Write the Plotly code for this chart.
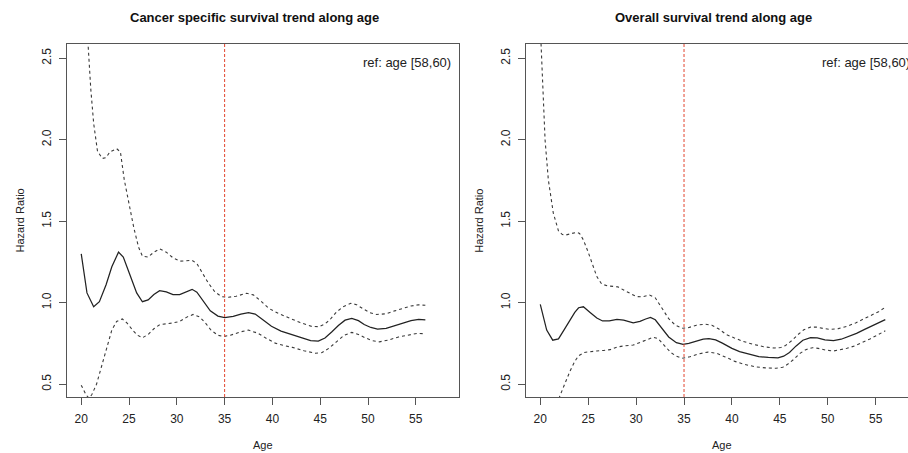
import plotly.graph_objects as go

# ---------------- data ----------------
cs_age = [20.0, 20.6, 21.3, 21.9, 22.6, 23.2, 23.9, 24.4, 25.1, 25.8, 26.4, 27.0, 27.6, 28.2, 28.9, 29.6, 30.3, 31.0, 31.6, 32.1,
          32.8, 33.5, 34.3, 35.0, 35.9, 36.7, 37.5, 38.2, 39.0, 39.9, 40.9, 42.0, 43.0, 44.0, 44.8, 45.5, 46.2, 46.9, 47.6, 48.3,
          49.0, 49.6, 50.3, 51.0, 51.9, 52.8, 53.7, 54.5, 55.3, 56.0]
cs_hr = [1.30, 1.06, 0.975, 1.006, 1.11, 1.22, 1.31, 1.28, 1.17, 1.06, 1.006, 1.017, 1.05, 1.074, 1.066, 1.05, 1.05, 1.068, 1.082, 1.065,
         1.01, 0.95, 0.918, 0.908, 0.916, 0.93, 0.939, 0.93, 0.895, 0.855, 0.826, 0.806, 0.785, 0.767, 0.764, 0.783, 0.82, 0.86, 0.893, 0.904,
         0.89, 0.866, 0.848, 0.838, 0.842, 0.858, 0.876, 0.89, 0.898, 0.894]

cs_up_age = [20.0, 20.4, 20.7, 21.0, 21.3, 21.7, 22.2, 22.6, 23.0, 23.7, 24.1, 24.5, 25.0, 25.5, 26.0, 26.4, 27.0, 27.6, 28.2, 28.9,
             29.6, 30.3, 31.0, 31.6, 32.1, 32.7, 33.3, 34.0, 34.7, 35.4, 36.2, 37.3, 38.0, 38.8, 39.6, 40.6, 41.7, 42.9, 44.1, 44.9,
             45.5, 46.0, 46.7, 47.4, 48.2, 48.8, 49.5, 50.2, 50.9, 51.9, 52.8, 53.7, 54.5, 55.3, 56.0]
cs_up = [3.6, 3.0, 2.6, 2.31, 2.10, 1.93, 1.885, 1.89, 1.925, 1.945, 1.925, 1.755, 1.60, 1.46, 1.34, 1.285, 1.28, 1.31, 1.33, 1.31,
         1.275, 1.255, 1.257, 1.26, 1.24, 1.18, 1.12, 1.065, 1.037, 1.033, 1.04, 1.058, 1.048, 1.01, 0.966, 0.935, 0.906, 0.878, 0.855, 0.853,
         0.87, 0.894, 0.943, 0.975, 0.996, 0.988, 0.962, 0.938, 0.928, 0.932, 0.95, 0.966, 0.98, 0.987, 0.984]

cs_lo_age = [20.0, 20.5, 20.8, 21.1, 21.6, 22.2, 22.7, 23.2, 23.7, 24.3, 24.8, 25.4, 25.9, 26.4, 27.0, 27.6, 28.2, 28.9, 29.6, 30.3,
             31.0, 31.7, 32.4, 33.0, 33.6, 34.3, 34.9, 35.6, 36.6, 37.5, 38.5, 39.4, 40.3, 41.2, 42.1, 43.3, 44.5, 45.2, 45.9, 46.7,
             47.5, 48.3, 49.0, 49.7, 50.4, 51.2, 52.2, 53.2, 54.2, 55.2, 56.0]
cs_lo = [0.494, 0.435, 0.415, 0.435, 0.50, 0.627, 0.73, 0.832, 0.885, 0.90, 0.875, 0.83, 0.80, 0.785, 0.805, 0.84, 0.865, 0.87, 0.876, 0.885,
         0.91, 0.928, 0.912, 0.875, 0.83, 0.80, 0.793, 0.80, 0.82, 0.832, 0.812, 0.78, 0.752, 0.737, 0.726, 0.705, 0.69, 0.694, 0.72, 0.76,
         0.80, 0.818, 0.805, 0.785, 0.768, 0.76, 0.772, 0.79, 0.803, 0.812, 0.809]

os_age = [20.0, 20.67, 21.3, 21.9, 22.5, 23.1, 23.6, 24.0, 24.5, 25.2, 25.9, 26.5, 27.2, 28.0, 28.7, 29.7, 30.4, 31.0, 31.5, 32.0,
          32.7, 33.4, 34.2, 34.9, 35.5, 36.2, 37.0, 37.6, 38.3, 39.0, 40.0, 40.8, 41.7, 42.8, 43.8, 44.8, 45.4, 46.0, 46.7, 47.4,
          48.2, 48.9, 49.7, 50.6, 51.4, 52.2, 53.0, 53.9, 54.8, 55.5, 56.0]
os_hr = [0.99, 0.832, 0.77, 0.778, 0.835, 0.894, 0.94, 0.969, 0.975, 0.94, 0.906, 0.888, 0.888, 0.898, 0.893, 0.877, 0.885, 0.90, 0.91, 0.895,
         0.845, 0.79, 0.755, 0.745, 0.75, 0.764, 0.777, 0.78, 0.772, 0.752, 0.72, 0.70, 0.684, 0.669, 0.664, 0.662, 0.672, 0.695, 0.735, 0.77,
         0.786, 0.784, 0.772, 0.768, 0.776, 0.792, 0.812, 0.838, 0.862, 0.881, 0.896]

os_up_age = [20.0, 20.25, 20.5, 20.84, 21.36, 21.9, 22.3, 22.7, 23.2, 23.8, 24.1, 24.5, 25.0, 25.4, 25.9, 26.4, 27.0, 27.6, 28.1, 28.7,
             29.4, 30.0, 30.6, 31.4, 32.0, 32.7, 33.4, 34.1, 34.8, 35.4, 36.3, 37.2, 37.9, 38.6, 39.4, 40.2, 41.2, 42.2, 43.3, 44.4,
             45.1, 45.6, 46.3, 46.9, 47.5, 48.2, 48.9, 49.5, 50.3, 51.1, 52.0, 52.9, 53.7, 54.5, 55.3, 56.0]
os_up = [2.70, 2.31, 2.0, 1.755, 1.55, 1.44, 1.418, 1.416, 1.425, 1.432, 1.425, 1.385, 1.31, 1.24, 1.16, 1.115, 1.103, 1.10, 1.097, 1.078,
         1.058, 1.038, 1.036, 1.047, 1.03, 0.965, 0.902, 0.862, 0.843, 0.846, 0.862, 0.868, 0.862, 0.84, 0.805, 0.785, 0.762, 0.745, 0.73, 0.722,
         0.725, 0.738, 0.77, 0.805, 0.834, 0.85, 0.85, 0.842, 0.836, 0.841, 0.855, 0.876, 0.898, 0.921, 0.945, 0.972]

os_lo_age = [20.0, 21.0, 21.6, 22.06, 22.4, 23.1, 23.6, 24.0, 24.6, 25.2, 25.9, 26.6, 27.3, 28.0, 28.7, 29.7, 30.4, 31.1, 31.8, 32.3,
             32.9, 33.6, 34.2, 34.8, 35.6, 36.5, 37.5, 38.4, 39.3, 40.3, 41.3, 42.4, 43.5, 44.6, 45.3, 45.8, 46.4, 47.1, 47.7, 48.4,
             49.0, 49.8, 50.6, 51.3, 52.0, 52.8, 53.6, 54.4, 55.2, 56.0]
os_lo = [0.10, 0.27, 0.36, 0.43, 0.483, 0.58, 0.64, 0.675, 0.695, 0.701, 0.704, 0.707, 0.712, 0.728, 0.735, 0.74, 0.757, 0.775, 0.788, 0.78,
         0.74, 0.695, 0.672, 0.659, 0.668, 0.686, 0.697, 0.69, 0.667, 0.64, 0.622, 0.607, 0.60, 0.598, 0.604, 0.622, 0.65, 0.689, 0.712, 0.724,
         0.72, 0.709, 0.704, 0.71, 0.72, 0.735, 0.755, 0.778, 0.802, 0.828]

titles = ["Cancer specific survival trend along age", "Overall survival trend along age"]
ref_label = "ref: age [58,60)"
cut_age = 35
x_ticks = [20, 25, 30, 35, 40, 45, 50, 55]
y_ticks = [0.5, 1.0, 1.5, 2.0, 2.5]
y_tick_text = ["0.5", "1.0", "1.5", "2.0", "2.5"]

# ---------------- figure ----------------
W, H = 908, 453
FONT = "Liberation Sans, Arial, Helvetica, sans-serif"
MAIN = "#222222"
DASH = "#3a3a3a"
RED = "#e2452f"
AXC = "#555555"

fig = go.Figure()

panels = [
    (cs_age, cs_hr, cs_up_age, cs_up, cs_lo_age, cs_lo, "x", "y"),
    (os_age, os_hr, os_up_age, os_up, os_lo_age, os_lo, "x2", "y2"),
]
for a, m, ua, u, la, l, xa, ya in panels:
    fig.add_trace(go.Scatter(x=ua, y=u, mode="lines", xaxis=xa, yaxis=ya,
                             line=dict(color=DASH, width=1.1, dash="3px,3px"), showlegend=False))
    fig.add_trace(go.Scatter(x=la, y=l, mode="lines", xaxis=xa, yaxis=ya,
                             line=dict(color=DASH, width=1.1, dash="3px,3px"), showlegend=False))
    fig.add_trace(go.Scatter(x=a, y=m, mode="lines", xaxis=xa, yaxis=ya,
                             line=dict(color=MAIN, width=1.25), showlegend=False))

ydom = [1 - 397 / H, 1 - 44 / H]
yr = [0.4215, 2.587]

axis_common = dict(showgrid=False, zeroline=False, showline=True, linecolor=AXC, linewidth=1,
                   ticks="outside", ticklen=7, tickcolor=AXC, tickwidth=1,
                   tickfont=dict(family=FONT, size=12, color="#222222"))

fig.update_layout(
    width=W, height=H, margin=dict(l=0, r=0, t=0, b=0),
    paper_bgcolor="white", plot_bgcolor="white",
    xaxis=dict(domain=[66.7 / W, 459 / W], range=[18.48, 59.52], tickvals=x_ticks, mirror=True,
               ticklabelstandoff=4, anchor="y", **axis_common),
    yaxis=dict(domain=ydom, range=yr, tickvals=y_ticks, ticktext=y_tick_text,
               tickangle=-90, mirror=True, anchor="x", ticklabelstandoff=3, **axis_common),
    xaxis2=dict(domain=[525.7 / W, 1.0], range=[18.48, 20 + (908 - 540.3) / 9.583], tickvals=x_ticks, mirror=True,
                ticklabelstandoff=4, anchor="y2", **axis_common),
    yaxis2=dict(domain=ydom, range=yr, tickvals=y_ticks, ticktext=y_tick_text,
                tickangle=-90, mirror=False, anchor="x2", ticklabelstandoff=3, **axis_common),
)

# red vertical reference lines
for xr, yref in (("x", "y domain"), ("x2", "y2 domain")):
    fig.add_shape(type="line", xref=xr, yref=yref, x0=cut_age, x1=cut_age, y0=0, y1=1,
                  line=dict(color=RED, width=1, dash="3px,2px"))

anns = []
# titles
for cx, t in ((254, titles[0]), (713.5, titles[1])):
    anns.append(dict(text="<b>" + t + "</b>", x=cx / W, y=1 - 18 / H, xref="paper", yref="paper",
                     xanchor="center", yanchor="middle", showarrow=False,
                     font=dict(family=FONT, size=13, color="#111111")))
# ref labels (paper coords so the clipped right one still shows)
for rx in (452.5, 911.8):
    anns.append(dict(text=ref_label, x=rx / W, y=1 - 62 / H, xref="paper", yref="paper",
                     xanchor="right", yanchor="middle", showarrow=False,
                     font=dict(family=FONT, size=13, color="#222222")))
# axis titles
for cx in (263, 722.3):
    anns.append(dict(text="Age", x=cx / W, y=1 - 445 / H, xref="paper", yref="paper",
                     xanchor="center", yanchor="middle", showarrow=False,
                     font=dict(family=FONT, size=11, color="#222222")))
for cx in (20, 479.3):
    anns.append(dict(text="Hazard Ratio", x=cx / W, y=1 - 220.5 / H, xref="paper", yref="paper",
                     xanchor="center", yanchor="middle", textangle=-90, showarrow=False,
                     font=dict(family=FONT, size=11, color="#222222")))
fig.update_layout(annotations=anns)

fig.write_html("out.html")
